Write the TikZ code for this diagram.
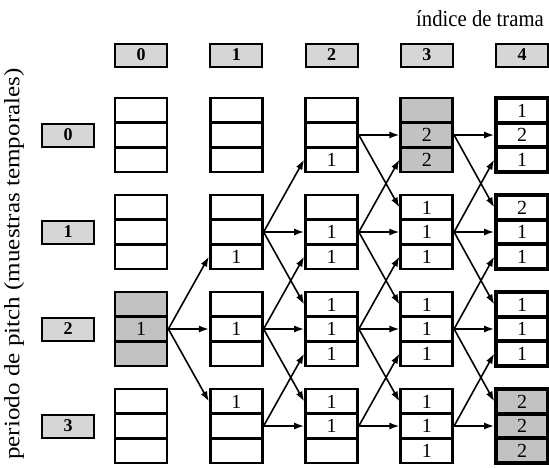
\documentclass[tikz,border=0pt]{standalone}
\usepackage{fontspec}
\setmainfont{Liberation Serif}
\usetikzlibrary{arrows.meta}
\definecolor{CellShade}{HTML}{C2C2C2}
\definecolor{LabelFill}{HTML}{D6D6D6}

\begin{document}
\begin{tikzpicture}[
    x=1pt,y=-1pt,
    cell/.style={draw,line width=2.7pt,minimum width=52pt,minimum height=24.6pt,inner sep=0pt,font=\fontsize{20}{20}\selectfont},
    shaded/.style={cell,fill=CellShade},
    endcell/.style={cell,line width=3.7pt},
    endshaded/.style={endcell,fill=CellShade},
    idx/.style={draw,line width=2pt,fill=LabelFill,minimum width=52pt,minimum height=23pt,inner sep=0pt,font=\fontsize{18}{18}\selectfont\bfseries},
    arr/.style={-{Latex[length=10pt,width=7pt]},line width=1.6pt}
  ]
  \useasboundingbox (0,0) rectangle (549,467);
  % axis texts
  \node[anchor=base east,xscale=0.9,font=\fontsize{23}{23}\selectfont] (title) at (547,26) {índice de trama};
  \node[rotate=90,xscale=1.14,font=\fontsize{22}{22}\selectfont] (axis) at (14,264) {periodo de pitch (muestras temporales)};
  % frame and period indices
  \foreach \c in {0,...,4}
    \node[idx] (h\c) at ({141+95.25*\c},55) {\c};
  \foreach \r in {0,...,3}
    \node[idx] (p\r) at (68,{135+97*\r}) {\r};
  % stacks of three cells
  \foreach \c/\r/\kind/\ta/\tb/\tc in {
      0/0/cell/{}/{}/{}, 0/1/cell/{}/{}/{}, 0/2/shaded/{}/1/{}, 0/3/cell/{}/{}/{},
      1/0/cell/{}/{}/{}, 1/1/cell/{}/{}/1, 1/2/cell/{}/1/{}, 1/3/cell/1/{}/{},
      2/0/cell/{}/{}/1, 2/1/cell/{}/1/1, 2/2/cell/1/1/1, 2/3/cell/1/1/{},
      3/0/shaded/{}/2/2, 3/1/cell/1/1/1, 3/2/cell/1/1/1, 3/3/cell/1/1/1,
      4/0/endcell/1/2/1, 4/1/endcell/2/1/1, 4/2/endcell/1/1/1, 4/3/endshaded/2/2/2}
    \foreach \k/\t in {1/\ta,2/\tb,3/\tc}
      \node[\kind] (s\c\r\k) at ({141+95.25*\c},{135+97*\r+24.6*(\k-2)}) {\t};
  % transitions
  \foreach \c/\rows in {0/{2},1/{1,2,3},2/{0,1,2,3},3/{0,1,2,3}}
    \foreach \r in \rows {
      \pgfmathtruncatemacro\n{\c+1}
      \pgfmathtruncatemacro\up{\r-1}
      \pgfmathtruncatemacro\dn{\r+1}
      \draw[arr] (s\c\r2.east) -- (s\n\r2.west);
      \ifnum\r>0 \draw[arr] (s\c\r2.east) -- (s\n\up3.west); \fi
      \ifnum\r<3 \draw[arr] (s\c\r2.east) -- (s\n\dn1.west); \fi
    }
\end{tikzpicture}
\end{document}
